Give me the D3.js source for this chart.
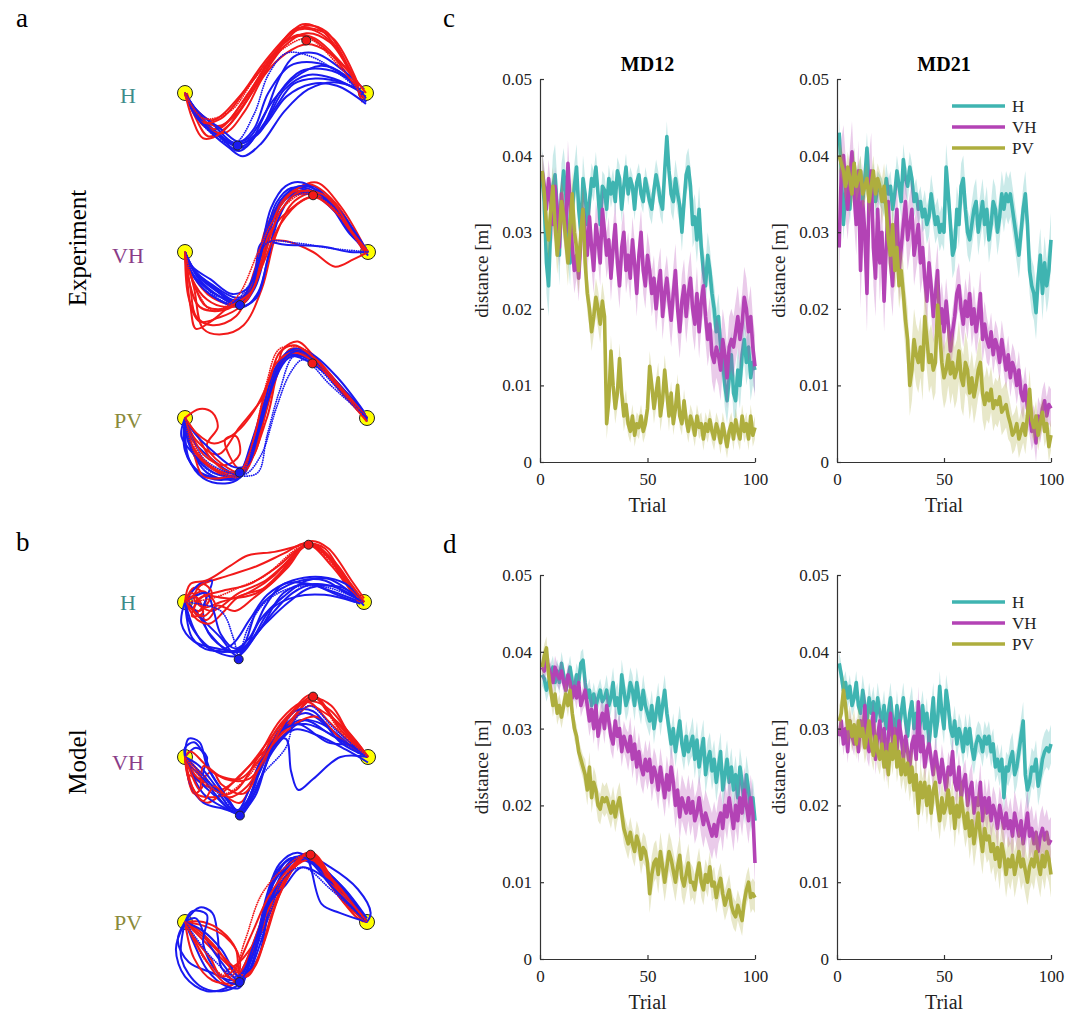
<!DOCTYPE html>
<html>
<head>
<meta charset="utf-8">
<script src="https://cdn.jsdelivr.net/npm/d3@7"></script>
<style>
  body { margin: 0; background: #fff; }
  svg { display: block; }
  text { font-family: "Liberation Serif", "Times New Roman", serif; }
</style>
</head>
<body>
<svg id="fig" width="1080" height="1012"></svg>
<script>
// ---------------- learning curves: mean distance to via points (mm) ----------------
const trials = d3.range(1, 101);
const xTicks = [0, 50, 100];
const yTicks = [0, 0.01, 0.02, 0.03, 0.04, 0.05];
const conditions = ["H", "VH", "PV"];

// experiment, MD12
const expMD12_H = [37,34,26,23,31,36,37.5,33,27,35, 38,35,29,26,33,36,38.5,33,30,37, 35,31,34,37,36,38.5,35,31,36,35.5,
  33,37,35,36.5,34,38,37,33,36,38.5, 35,37,36,33,36.5,37.5,35,34,37,35.5, 34,33,35.5,37.5,36,34,33,38,42.5,38,
  35,34,37,35,33.5,30,34,37.5,38.5,36, 31,32,29,33,28,25,23,27,25,22, 20,17,19,15,13,10,8,11,14,9, 8,12,10,14,16,13,15,11,13,12];
const expMD12_VH = [38,36,33,37,34,31,36,33,28,35, 32,30,39,34,28,25,27,24,29,33, 30,27,32,28,25,31,29,26,33,30,
  27,29,24,28,31,26,23,28,30,25, 27,24,29,26,22,27,30,25,23,27, 25,22,24,20,23,25,19,22,24,21,
  18.5,22,25,20,17,21,23,19,22,24, 20,18,22,17,21,23,19,16,18,14, 13,15,14,12,16,14,11,15,16,15, 17,19,16,18,21.5,20,17,19,15,12.5];
const expMD12_PV = [38,35,31,29,33,36,31,27,30,34, 32,29,26,31,35,30,28,25,30,33, 26,22,20,17,19,21.5,20,18,21,19,
  5,8,14.5,10,7,9,13.5,9,6,7.5, 5,4,6,3.5,5,4.5,6,4,5,7, 12.5,10,7,9,11,6,8,12,9,6,
  9,5,7,10,6,5,8,5.5,4,6, 5,3.5,6,4.5,5,3,5,4,5.5,4, 3,5,4,2.5,5,3.5,2,4,5,3, 5.5,4,3,6,4,5,3,6,3.5,4.5];

// experiment, MD21
const expMD21_H = [43,38,31,35,36,33,37,39,35,36, 38,34,37,41,36,35,37,34,36,35.5, 35,34,37,35,36,33,35,38,36,34,
  39.5,37,36,38.5,37,34,35,33,34,32, 33,31,32,35,33,31,32,30,31,30, 38.5,35,31,27,28,33,31,36,37,33,
  30,29,31,33,34,30,32,34,31,33, 29,31,34,33,30,32,35,33,35,34, 35,33,31,29,27,30,33,35,31,25, 23,22,19.5,24,27,22,26,23,25,29];
const expMD21_VH = [28,38,40,36,33,37,40.5,35,31,38, 25,34,30,22,35,38,28,24,33,26, 30,21,28,34,26,23,29,33,25,28,
  31,34,29,31,33,27,29,31,26,28, 24,21,26,23,19,22,25,18,20,17, 21,18,14.5,17,19,22,23,20,18,21,
  19,22,18,20,17,19,22,16,18,16, 15,17,14,16,15,13,16,14,12,14, 11,13,12,10,12,9,8,10,7,6, 4,5,2.5,6,5,7,8,6,7.5,7];
const expMD21_PV = [40,39,38,36,38.5,37,35,39,36,37, 38,35,36,37,34,36,38,35,37,36, 34,36,33,29,27,31,25,28,23,25,
  22,18.5,16,10,12,16,14,13,15,12, 19,16,13,14,12,13,20.5,17,13,11, 12,14,11.5,13,11,12,14.5,11,10,13,
  12,9,11,8.5,10,12,13,9,7.5,9, 8,9.5,7,8,7.5,8.5,6.5,7,7.5,6, 5,3.5,4,5,3,4,5,3.5,6,9.5, 5.5,4.5,6,3.5,5,6.5,4,5,2,3.5];

// model, MD12
const modMD12_H = [37,36.5,35,36,37,38,36,37.5,36,38.5, 37,35,36.5,38,36,35,37,36,38.5,38.9, 36,34,35,33,34.5,33,34,35,33.5,34,
  35,33,34,36,33,34,32,37,35,33, 34,36,35,33,36,34,32.5,35,33,32, 31,33,30,32,34,31,33,35,32,30,
  28,30,27,29,31,28,26.5,29,27,28, 29,26,28.5,25,27,28.7,24,26,27,24.5, 26,23,25,27,22,24,26,23,25,22, 24,21,25,23,20,24,22,19,21,18];
const modMD12_VH = [38,37.5,39,38,37,36,38,37,36.5,37.5, 36,35,37,36,34,35.5,34,36,33,34, 35,33,31,32.5,30,33,29,31,32,30,
  33,31,29,28,31,29,30,27,29,28, 27,29,26,28,25,27,25,24,26,24.5, 26,23,25,24,22,25,23,21,24,22,
  25,23,20,22,18.5,21,20,19,21,19, 20.5,18,19,21,19,17.5,19,18,17,16, 17.5,16,18,19,17,20,18.5,21,19,17, 20,18,21,19,22,20,18,21,19,12.5];
const modMD12_PV = [38,39.5,40.5,37,35,33,34.5,32,33,31.5, 33,34.5,33,35,32,30,29,27,26,25, 24,22,25,21,23,22,20,19.5,21,20.5,
  21,20,19,20.5,18.5,20,21,19,17,16, 15,16.5,15,14,16,15,13,14.5,14,12.5, 8.5,11,12.5,13,11,14,12,10,12,14,
  13,11.5,10,12,13.5,10.5,9.5,11,12.5,10, 10,9,11,12.5,10,9,11,10,12,9.5, 10,8,9.5,10.5,8.5,7,8,9,7,6, 5.5,7,6,5,7.5,9,10,8,8.5,8];

// model, MD21
const modMD21_H = [38.5,37,35,36,34,35.5,33,34,36,33, 32,35,33,31,34,32,33.5,31,34,32, 31,33,30,32,34,31,29,33,30,32,
  34,31,29,32,33.5,30,32,29,31,33, 30,32,28,31,34,29,31,35.5,32,30, 35,33,30,29,31,28,30,29,27,30,
  28,30,27.5,26,28,29,28.5,27,29,28, 29,27,28,25,26,24.5,26,21,25,24.5, 26,27,24,25,27,29,31,24,22,23, 25,24.5,26,22.5,24,26,27,27.5,27,28];
const modMD21_VH = [29,31,28,30,27,31,29,28,30,27, 31,29,33,28,27,30,32,26,29,31, 27,30,25,29,32,28,30,27,31,29,
  26,29,27,25,28,29,26,33.5,27,29, 25,27,28,26,24,27,25,23,26,24, 22,25,24,27,23,22,25,21,23,24,
  20,22,23,19,21,20,23,18,21,19, 21,18,20,19,17,20,18.5,17,19,17, 18,16,19,17.5,16,18,15,17,19,16, 17,15,16.5,14,16,17,15.5,16.5,15,15.5];
const modMD21_PV = [31,32,35,33,30,31,29,30.5,28,31, 29,30,27.5,29,31,28,26.5,29,27,26, 28,25,27,24,28,26,29,25,27,24,
  26,24,25.5,23,25,22,24,19,23,21, 23,20,22.5,19,22,23,20,18,21,19, 20,22,19,21,17,20,18.5,21,19,17,
  19,16,18,15,17,19,16,14,17,15.5, 16,14,15,13,14.5,12,15,13.5,11,13, 12,13.5,11,12.5,14,12,13,11.5,10,12, 13,12,14,12.5,11,13.5,12,14,13,11];

// half-width of the shaded spread, one value per block of ten trials (mm)
const expMD12_H_sd  = [4,3,2,1.8,1.5,2,2.5,3,3,3];
const expMD12_VH_sd = [2.5,3,3,3,3,3,3.5,3.5,4,4];
const expMD12_PV_sd = [2.5,3,2.5,2,1.5,2,1.5,1.5,1.5,1.5];
const expMD21_H_sd  = [2,2,2,2,2.5,3,3,3,3,3.5];
const expMD21_VH_sd = [4,5,4,4,3.5,3,3,2.5,2.5,2.5];
const expMD21_PV_sd = [2,2,3,4,4,4,3.5,3,2.5,2];
const modMD12_H_sd  = [1.5,1.5,1.5,2,2,2,2,2.5,2.5,2.5];
const modMD12_VH_sd = [1.5,1.5,2,2,2.5,2.5,3,3,3,3];
const modMD12_PV_sd = [1.5,1.5,2,2,2,2.5,2.5,2,2,2];
const modMD21_H_sd  = [1.5,2,2,2,2,2,2,2,2.5,2.5];
const modMD21_VH_sd = [1.5,2,2,2,2,2,2.5,2.5,3,3];
const modMD21_PV_sd = [2,2,2,2.5,2.5,2.5,3,3,3,3];

// ---------------- hand trajectories (start at [0,0], end at [1,0]) ----------------
const expH_red = [
  [[0,0],[0.06,-0.1],[0.15,-0.2],[0.28,-0.12],[0.42,0.08],[0.55,0.26],[0.67,0.33],[0.8,0.28],[0.92,0.1],[0.98,-0.02]],
  [[0,0],[0.05,-0.12],[0.13,-0.24],[0.24,-0.18],[0.4,0.05],[0.55,0.28],[0.66,0.37],[0.78,0.34],[0.9,0.15],[0.97,0]],
  [[0,-0.01],[0.08,-0.15],[0.18,-0.2],[0.32,-0.05],[0.45,0.15],[0.58,0.3],[0.68,0.31],[0.82,0.2],[0.95,0.02]],
  [[0,0],[0.07,-0.13],[0.2,-0.18],[0.35,0],[0.48,0.2],[0.6,0.34],[0.7,0.35],[0.84,0.25],[0.93,0.07],[0.99,-0.03]],
  [[0.01,0],[0.1,-0.18],[0.22,-0.22],[0.33,-0.1],[0.44,0.1],[0.56,0.22],[0.67,0.27],[0.8,0.22],[0.96,0.05]],
  [[0,0],[0.05,-0.08],[0.15,-0.15],[0.3,-0.02],[0.43,0.16],[0.57,0.32],[0.65,0.38],[0.75,0.35],[0.88,0.18],[0.98,-0.05]],
  [[0,0],[0.09,-0.16],[0.2,-0.14],[0.36,0.05],[0.5,0.23],[0.62,0.32],[0.72,0.3],[0.86,0.17],[1,0]],
  [[0,0],[0.04,-0.14],[0.1,-0.25],[0.2,-0.22],[0.34,-0.04],[0.47,0.18],[0.6,0.35],[0.68,0.36],[0.82,0.3],[0.96,0.04]]
];
const expH_redDot = [
  [[0,0],[0.1,-0.14],[0.25,-0.1],[0.4,0.1],[0.55,0.25],[0.68,0.3],[0.85,0.15],[0.97,0]]
];
const expH_blue = [
  [[0,0],[0.06,-0.1],[0.18,-0.22],[0.3,-0.3],[0.42,-0.2],[0.52,0],[0.64,0.12],[0.78,0.13],[0.9,0.08],[1,-0.03]],
  [[0,0],[0.08,-0.12],[0.2,-0.25],[0.3,-0.32],[0.45,-0.15],[0.55,0.02],[0.68,0.1],[0.82,0.08],[0.98,0]],
  [[0,0],[0.1,-0.15],[0.25,-0.27],[0.35,-0.25],[0.48,-0.05],[0.6,0.08],[0.75,0.15],[0.88,0.1],[1,-0.05]],
  [[0,0],[0.05,-0.08],[0.16,-0.18],[0.28,-0.28],[0.4,-0.23],[0.5,-0.08],[0.6,0.05],[0.72,0.08],[0.86,0.06],[0.99,0]],
  [[0,0],[0.08,-0.14],[0.22,-0.26],[0.33,-0.3],[0.44,-0.12],[0.52,0.08],[0.6,0.2],[0.72,0.22],[0.88,0.12],[0.99,0.02]],
  [[0,0],[0.1,-0.17],[0.24,-0.3],[0.32,-0.35],[0.42,-0.28],[0.55,-0.1],[0.68,0.02],[0.82,0.06],[0.97,0.02]],
  [[0,0],[0.07,-0.1],[0.2,-0.2],[0.3,-0.27],[0.38,-0.2],[0.46,0],[0.58,0.15],[0.7,0.17],[0.85,0.12],[0.98,-0.01]],
  [[0,0],[0.06,-0.13],[0.19,-0.24],[0.31,-0.28],[0.44,-0.18],[0.56,-0.02],[0.7,0.05],[0.84,0.04],[1,-0.06]]
];
const expH_blueDot = [
  [[0,0],[0.12,-0.2],[0.27,-0.28],[0.38,-0.12],[0.46,0.1],[0.56,0.22],[0.7,0.2],[0.86,0.1],[1,-0.02]]
];

const expVH_red = [
  [[0,0],[0.02,-0.15],[0.08,-0.3],[0.2,-0.32],[0.32,-0.25],[0.4,-0.05],[0.48,0.2],[0.58,0.32],[0.7,0.33],[0.85,0.2],[0.99,0]],
  [[0,0],[0.03,-0.2],[0.06,-0.35],[0.15,-0.4],[0.28,-0.35],[0.38,-0.1],[0.45,0.15],[0.55,0.3],[0.68,0.37],[0.82,0.27],[0.97,0.02]],
  [[0,0],[0.05,-0.2],[0.1,-0.42],[0.2,-0.45],[0.32,-0.4],[0.42,-0.2],[0.5,0.1],[0.6,0.28],[0.72,0.32],[0.88,0.15],[1,0]],
  [[0,0],[0.04,-0.12],[0.15,-0.25],[0.28,-0.28],[0.38,-0.15],[0.45,0.05],[0.55,0.06],[0.7,0],[0.82,-0.08],[0.92,-0.04],[1,0]],
  [[0,0],[0.05,-0.18],[0.12,-0.3],[0.25,-0.3],[0.35,-0.2],[0.43,0.05],[0.52,0.25],[0.62,0.35],[0.72,0.38],[0.85,0.25],[0.98,0.03]],
  [[0,0],[0.02,-0.25],[0.08,-0.38],[0.18,-0.36],[0.3,-0.3],[0.4,-0.12],[0.46,0.1],[0.56,0.22],[0.7,0.3],[0.86,0.18],[0.99,-0.01]],
  [[0,0],[0.04,-0.15],[0.12,-0.26],[0.22,-0.3],[0.33,-0.27],[0.42,-0.08],[0.52,0.15],[0.64,0.28],[0.76,0.3],[0.9,0.12],[1,0]],
  [[0,0],[0.03,-0.3],[0.06,-0.42],[0.14,-0.38],[0.24,-0.3],[0.36,-0.22],[0.44,0],[0.52,0.22],[0.63,0.33],[0.78,0.3],[0.92,0.1],[1,0]]
];
const expVH_redDot = [
  [[0,0],[0.06,-0.2],[0.15,-0.32],[0.28,-0.25],[0.4,0],[0.5,0.2],[0.65,0.32],[0.8,0.25],[0.97,0.01]]
];
const expVH_blue = [
  [[0,0],[0.05,-0.1],[0.15,-0.18],[0.28,-0.25],[0.35,-0.22],[0.42,-0.05],[0.48,0.2],[0.56,0.32],[0.66,0.35],[0.8,0.25],[0.92,0.08],[1,0]],
  [[0,0],[0.06,-0.12],[0.18,-0.22],[0.3,-0.29],[0.38,-0.2],[0.44,0],[0.5,0.22],[0.6,0.34],[0.7,0.36],[0.85,0.2],[0.98,0]],
  [[0,0],[0.04,-0.08],[0.14,-0.15],[0.26,-0.23],[0.36,-0.18],[0.43,0.05],[0.5,0.27],[0.58,0.35],[0.68,0.33],[0.82,0.22],[0.95,0.05],[1,-0.02]],
  [[0,0],[0.07,-0.14],[0.2,-0.25],[0.32,-0.3],[0.4,-0.22],[0.46,0],[0.52,0.25],[0.6,0.32],[0.75,0.3],[0.9,0.1],[0.99,0.02]],
  [[0,0],[0.05,-0.1],[0.16,-0.2],[0.3,-0.28],[0.38,-0.12],[0.42,0.05],[0.55,0.04],[0.75,0.03],[0.9,0],[1,0]],
  [[0,0],[0.06,-0.11],[0.17,-0.2],[0.29,-0.27],[0.37,-0.15],[0.45,0.1],[0.52,0.28],[0.62,0.36],[0.72,0.34],[0.85,0.22],[0.97,0.04]],
  [[0,0],[0.05,-0.14],[0.18,-0.26],[0.3,-0.3],[0.39,-0.25],[0.45,-0.05],[0.51,0.18],[0.58,0.3],[0.66,0.32],[0.78,0.28],[0.92,0.12],[1,0]],
  [[0,0],[0.03,-0.1],[0.12,-0.2],[0.24,-0.26],[0.34,-0.24],[0.41,-0.02],[0.47,0.24],[0.55,0.36],[0.64,0.38],[0.8,0.26],[0.95,0.06]]
];
const expVH_blueDot = [
  [[0,0],[0.1,-0.18],[0.25,-0.28],[0.35,-0.18],[0.45,0.05],[0.6,0.05],[0.8,0.02],[1,0]]
];

const expPV_red = [
  [[0,0],[0.04,-0.15],[0.12,-0.25],[0.22,-0.3],[0.32,-0.3],[0.4,-0.1],[0.47,0.15],[0.55,0.33],[0.63,0.38],[0.72,0.3],[0.86,0.16],[1,0]],
  [[0,0],[0.08,0.05],[0.15,0.03],[0.18,-0.05],[0.12,-0.15],[0.2,-0.25],[0.32,-0.3],[0.42,-0.05],[0.5,0.22],[0.58,0.38],[0.68,0.35],[0.85,0.17],[0.99,0]],
  [[0,0],[0.06,-0.12],[0.18,-0.2],[0.3,-0.05],[0.42,0.1],[0.5,0.25],[0.54,0.38],[0.62,0.42],[0.7,0.35],[0.85,0.18],[1,0]],
  [[0,0],[0.1,-0.2],[0.22,-0.26],[0.3,-0.2],[0.28,-0.1],[0.22,-0.12],[0.3,-0.28],[0.38,-0.2],[0.46,0.1],[0.55,0.34],[0.66,0.36],[0.82,0.2],[0.98,0.01]],
  [[0,0],[0.05,-0.18],[0.15,-0.28],[0.27,-0.33],[0.35,-0.25],[0.42,0],[0.5,0.28],[0.58,0.36],[0.7,0.32],[0.88,0.12],[1,-0.02]],
  [[0,0],[0.07,-0.1],[0.14,-0.22],[0.25,-0.3],[0.33,-0.28],[0.45,0],[0.53,0.3],[0.62,0.37],[0.75,0.28],[0.9,0.1],[1,0]],
  [[0,0],[0.05,-0.2],[0.1,-0.32],[0.2,-0.33],[0.3,-0.3],[0.36,-0.18],[0.43,0.1],[0.5,0.3],[0.6,0.36],[0.72,0.3],[0.86,0.14],[0.99,0]],
  [[0,0],[0.06,-0.08],[0.16,-0.14],[0.28,-0.08],[0.38,0.04],[0.46,0.2],[0.52,0.36],[0.6,0.4],[0.72,0.32],[0.88,0.14],[1,0]]
];
const expPV_redDot = [
  [[0,0],[0.08,-0.2],[0.2,-0.3],[0.3,-0.32],[0.38,-0.1],[0.45,0.2],[0.52,0.38],[0.65,0.38],[0.8,0.22],[0.97,0.02]]
];
const expPV_blue = [
  [[0,0],[-0.02,-0.1],[0.05,-0.2],[0.15,-0.28],[0.28,-0.32],[0.33,-0.3],[0.4,-0.05],[0.5,0.25],[0.58,0.36],[0.68,0.34],[0.82,0.2],[0.97,0.05],[1,-0.02]],
  [[0,0],[0.02,-0.14],[0.1,-0.26],[0.22,-0.32],[0.3,-0.3],[0.36,-0.15],[0.44,0.1],[0.52,0.3],[0.6,0.35],[0.72,0.3],[0.86,0.16],[1,0]],
  [[0,0],[0,-0.18],[0.08,-0.3],[0.2,-0.34],[0.3,-0.3],[0.38,-0.1],[0.46,0.15],[0.55,0.33],[0.65,0.36],[0.78,0.24],[0.93,0.08],[1,-0.01]],
  [[0,0],[0.04,-0.12],[0.14,-0.22],[0.26,-0.3],[0.32,-0.28],[0.4,-0.08],[0.48,0.2],[0.56,0.34],[0.66,0.32],[0.8,0.22],[0.95,0.04]],
  [[0,0],[0.03,-0.16],[0.12,-0.3],[0.25,-0.34],[0.31,-0.32],[0.37,-0.18],[0.45,0.1],[0.52,0.3],[0.6,0.38],[0.7,0.35],[0.84,0.22],[0.98,0.04]],
  [[0,0],[0.01,-0.2],[0.07,-0.29],[0.18,-0.33],[0.29,-0.32],[0.35,-0.22],[0.42,0.02],[0.5,0.28],[0.58,0.37],[0.7,0.32],[0.85,0.18],[1,0]],
  [[0,0],[0.05,-0.08],[0.15,-0.18],[0.27,-0.27],[0.34,-0.26],[0.41,-0.06],[0.49,0.2],[0.57,0.33],[0.68,0.33],[0.83,0.2],[0.99,0.02]],
  [[0,0],[0.02,-0.22],[0.1,-0.33],[0.22,-0.36],[0.3,-0.33],[0.38,-0.14],[0.46,0.12],[0.54,0.32],[0.63,0.37],[0.76,0.27],[0.92,0.1],[1,0]]
];
const expPV_blueDot = [
  [[0,0],[0.05,-0.2],[0.15,-0.3],[0.3,-0.32],[0.4,-0.3],[0.45,-0.1],[0.52,0.15],[0.6,0.34],[0.7,0.3],[0.85,0.15],[1,0]],
  [[0,0],[0.1,-0.22],[0.24,-0.3],[0.33,-0.31],[0.42,-0.2],[0.5,0.05],[0.58,0.25],[0.65,0.32],[0.8,0.18],[1,0]]
];

const modH_red = [
  [[0,0],[0.05,0.08],[0.12,0.02],[0.06,-0.06],[0.02,0.04],[0.1,0.1],[0.25,0.15],[0.4,0.2],[0.55,0.27],[0.68,0.33],[0.8,0.25],[0.9,0.1],[1,0]],
  [[0,0],[0.08,-0.05],[0.15,0.05],[0.1,0.1],[0.05,0.02],[0.15,-0.05],[0.3,0.05],[0.45,0.12],[0.6,0.25],[0.69,0.32],[0.82,0.2],[0.97,0]],
  [[0,0],[0.03,0.1],[0.12,0.12],[0.25,0.2],[0.35,0.26],[0.5,0.28],[0.62,0.31],[0.7,0.33],[0.85,0.2],[0.95,0.05],[1,0]],
  [[0,0],[0.1,0.06],[0.17,-0.02],[0.12,-0.1],[0.05,-0.05],[0.1,0.03],[0.25,0.02],[0.4,0.05],[0.55,0.18],[0.68,0.32],[0.78,0.3],[0.92,0.08],[1,0]],
  [[0,0],[0.07,-0.1],[0.14,-0.12],[0.22,-0.05],[0.3,0.03],[0.45,0.08],[0.58,0.2],[0.69,0.33],[0.84,0.22],[0.98,0]],
  [[0,0],[0.04,0.05],[0.1,-0.03],[0.2,0],[0.35,0.05],[0.5,0.15],[0.62,0.28],[0.7,0.34],[0.8,0.3],[0.93,0.12],[1,0.02]],
  [[0,0],[0.1,-0.08],[0.18,-0.02],[0.28,-0.05],[0.38,0.02],[0.5,0.12],[0.6,0.25],[0.7,0.32],[0.86,0.18],[0.99,0]],
  [[0,0],[0.06,0.03],[0.1,-0.06],[0.04,-0.08],[0.08,0.02],[0.2,0.06],[0.36,0.1],[0.52,0.2],[0.64,0.3],[0.72,0.32],[0.88,0.16],[1,0]]
];
const modH_redDot = [
  [[0,0],[0.15,0.02],[0.3,0.08],[0.45,0.15],[0.6,0.28],[0.68,0.33],[0.85,0.18],[1,0]]
];
const modH_blue = [
  [[0,0],[0.02,-0.1],[0.08,-0.2],[0.18,-0.28],[0.3,-0.3],[0.4,-0.18],[0.5,-0.05],[0.6,0.05],[0.72,0.1],[0.85,0.08],[1,0]],
  [[0,0],[0.08,0.1],[0.15,0.12],[0.1,-0.05],[0.15,-0.2],[0.3,-0.28],[0.42,-0.15],[0.55,0.05],[0.68,0.1],[0.82,0.06],[0.98,0]],
  [[0,0],[-0.02,-0.12],[0.05,-0.22],[0.18,-0.26],[0.3,-0.27],[0.45,-0.12],[0.58,0],[0.7,0.08],[0.88,0.08],[1,-0.02]],
  [[0,0],[0.06,-0.05],[0.14,-0.18],[0.25,-0.28],[0.33,-0.26],[0.42,-0.1],[0.55,0.03],[0.68,0.12],[0.8,0.13],[0.92,0.06],[1,0]],
  [[0,0],[0.1,-0.1],[0.2,-0.2],[0.29,-0.3],[0.38,-0.2],[0.48,-0.04],[0.62,0.03],[0.78,0.04],[0.95,0]],
  [[0,0],[0.05,-0.15],[0.12,-0.25],[0.22,-0.28],[0.32,-0.25],[0.4,-0.05],[0.5,0.05],[0.65,0.12],[0.78,0.12],[0.9,0.05],[1,0]],
  [[0,0],[0.12,0.05],[0.16,-0.05],[0.2,-0.18],[0.28,-0.26],[0.36,-0.2],[0.45,-0.02],[0.55,0.1],[0.7,0.1],[0.85,0.04],[0.98,-0.01]],
  [[0,0],[0.04,-0.2],[0.14,-0.27],[0.26,-0.24],[0.36,-0.1],[0.46,0.04],[0.6,0.12],[0.76,0.14],[0.9,0.1],[1,0]]
];
const modH_blueDot = [
  [[0,0],[0.2,-0.05],[0.27,-0.2],[0.3,-0.3],[0.35,-0.15],[0.45,0],[0.6,0.08],[0.8,0.08],[1,0]]
];

const modVH_red = [
  [[0,0],[0.05,-0.05],[0.1,-0.15],[0.05,-0.2],[0.02,-0.1],[0.1,-0.15],[0.2,-0.2],[0.3,-0.25],[0.4,-0.05],[0.5,0.15],[0.62,0.28],[0.7,0.33],[0.82,0.2],[0.95,0.05],[1,0]],
  [[0,0],[0.1,-0.1],[0.18,-0.18],[0.25,-0.15],[0.35,-0.05],[0.45,0.08],[0.55,0.2],[0.67,0.3],[0.78,0.2],[0.9,0.08],[1,0]],
  [[0,0],[0.04,-0.18],[0.12,-0.25],[0.2,-0.2],[0.3,-0.1],[0.45,0.05],[0.58,0.2],[0.7,0.32],[0.8,0.28],[0.9,0.12],[1,0]],
  [[0,0],[0.08,-0.12],[0.15,-0.08],[0.2,-0.15],[0.32,-0.2],[0.42,-0.05],[0.52,0.12],[0.62,0.25],[0.71,0.33],[0.85,0.15],[0.98,0.02]],
  [[0,0],[0.03,0.03],[0.12,-0.05],[0.22,-0.12],[0.35,-0.12],[0.48,0.05],[0.6,0.18],[0.72,0.22],[0.85,0.1],[1,0]],
  [[0,0],[0.06,-0.2],[0.15,-0.22],[0.28,-0.18],[0.4,0],[0.52,0.2],[0.64,0.3],[0.72,0.3],[0.8,0.25],[0.92,0.1],[1,0]],
  [[0,0],[0.08,-0.18],[0.1,-0.05],[0.18,-0.1],[0.3,-0.12],[0.42,0],[0.55,0.15],[0.68,0.28],[0.75,0.25],[0.88,0.15],[1,0]],
  [[0,0],[0.02,-0.12],[0.1,-0.24],[0.16,-0.16],[0.24,-0.22],[0.34,-0.16],[0.46,0.04],[0.58,0.24],[0.69,0.34],[0.8,0.22],[0.94,0.08],[1,0]]
];
const modVH_redDot = [
  [[0,0],[0.12,-0.15],[0.22,-0.2],[0.35,-0.1],[0.48,0.1],[0.6,0.25],[0.7,0.33],[0.85,0.14],[1,0]]
];
const modVH_blue = [
  [[0,0],[0,0.05],[0.05,0.08],[0.1,0.02],[0.15,-0.1],[0.25,-0.25],[0.3,-0.32],[0.38,-0.2],[0.46,0],[0.55,0.12],[0.65,0.2],[0.8,0.12],[1,0]],
  [[0,0],[0.05,-0.1],[0.15,-0.2],[0.28,-0.3],[0.35,-0.18],[0.45,0.05],[0.55,0.1],[0.58,-0.08],[0.62,-0.18],[0.7,-0.12],[0.85,0],[1,0]],
  [[0,0],[0.06,0.05],[0.12,0],[0.1,-0.1],[0.2,-0.2],[0.3,-0.3],[0.4,-0.1],[0.5,0.1],[0.62,0.2],[0.75,0.18],[0.9,0.06],[1,0]],
  [[0,0],[0.03,-0.15],[0.1,-0.25],[0.2,-0.28],[0.3,-0.3],[0.36,-0.2],[0.44,0.02],[0.55,0.18],[0.66,0.24],[0.8,0.15],[0.95,0.02]],
  [[0,0],[0.08,-0.05],[0.16,-0.15],[0.25,-0.28],[0.32,-0.28],[0.42,-0.05],[0.52,0.15],[0.62,0.18],[0.78,0.08],[0.92,0.06],[1,0]],
  [[0,0],[0.02,0.1],[0.08,0.08],[0.12,-0.05],[0.2,-0.18],[0.3,-0.3],[0.38,-0.22],[0.48,0.05],[0.6,0.15],[0.72,0.12],[0.88,0.04],[1,-0.03]],
  [[0,0],[0.1,-0.2],[0.22,-0.28],[0.3,-0.31],[0.4,-0.15],[0.5,0.1],[0.6,0.25],[0.7,0.25],[0.85,0.08],[1,0]],
  [[0,0],[0.04,-0.06],[0.1,-0.12],[0.18,-0.22],[0.27,-0.3],[0.34,-0.24],[0.42,-0.04],[0.52,0.14],[0.66,0.18],[0.84,0.1],[1,0]]
];
const modVH_blueDot = [
  [[0,0],[0.1,-0.1],[0.2,-0.22],[0.3,-0.3],[0.42,-0.1],[0.55,0.05],[0.6,0.2],[0.68,0.28],[0.82,0.15],[1,0]]
];

const modPV_red = [
  [[0,0],[0.1,-0.1],[0.2,-0.2],[0.3,-0.28],[0.4,-0.1],[0.5,0.15],[0.6,0.3],[0.68,0.36],[0.8,0.2],[0.95,0.02],[1,0]],
  [[0,0],[0.1,0],[0.2,-0.05],[0.28,-0.15],[0.3,-0.28],[0.38,-0.15],[0.45,0.1],[0.55,0.25],[0.68,0.38],[0.85,0.15],[1,0]],
  [[0,0],[0.08,-0.15],[0.18,-0.3],[0.25,-0.35],[0.32,-0.25],[0.42,0],[0.52,0.2],[0.62,0.32],[0.7,0.35],[0.82,0.2],[0.98,0]],
  [[0,0],[0.1,-0.02],[0.22,-0.08],[0.3,-0.2],[0.28,-0.32],[0.22,-0.28],[0.3,-0.22],[0.42,-0.05],[0.55,0.22],[0.68,0.38],[0.8,0.25],[1,0]],
  [[0,0],[0.05,-0.2],[0.15,-0.32],[0.27,-0.33],[0.35,-0.2],[0.45,0.05],[0.58,0.28],[0.69,0.36],[0.84,0.15],[1,0]],
  [[0,0],[0.08,-0.05],[0.18,-0.15],[0.3,-0.3],[0.38,-0.25],[0.48,0.05],[0.6,0.3],[0.7,0.34],[0.88,0.1],[1,0]],
  [[0,0],[0.12,-0.1],[0.26,-0.24],[0.34,-0.3],[0.42,-0.15],[0.52,0.15],[0.62,0.33],[0.7,0.38],[0.86,0.15],[1,0]],
  [[0,0],[0.06,-0.1],[0.14,-0.2],[0.2,-0.3],[0.27,-0.26],[0.36,-0.08],[0.46,0.14],[0.58,0.3],[0.68,0.37],[0.82,0.22],[1,0]]
];
const modPV_redDot = [
  [[0,0],[0.12,-0.22],[0.25,-0.3],[0.33,-0.1],[0.42,0.15],[0.55,0.3],[0.68,0.37],[0.85,0.18],[1,0]]
];
const modPV_blue = [
  [[0,0],[-0.05,-0.15],[0,-0.3],[0.12,-0.38],[0.25,-0.35],[0.32,-0.25],[0.4,-0.05],[0.48,0.2],[0.55,0.3],[0.65,0.35],[0.75,0.3],[0.9,0.15],[1,0]],
  [[0,0],[0.08,0.08],[0.15,0.05],[0.18,-0.08],[0.2,-0.25],[0.3,-0.33],[0.38,-0.15],[0.45,0.15],[0.52,0.32],[0.62,0.38],[0.78,0.25],[1,0]],
  [[0,0],[-0.04,-0.1],[0.02,-0.22],[0.15,-0.28],[0.25,-0.32],[0.33,-0.3],[0.42,-0.1],[0.5,0.2],[0.6,0.35],[0.72,0.33],[0.85,0.2],[1,0]],
  [[0,0],[0.05,-0.12],[0.12,-0.26],[0.22,-0.35],[0.3,-0.36],[0.36,-0.2],[0.44,0.05],[0.55,0.28],[0.65,0.37],[0.8,0.3],[0.95,0.18],[1.02,0.05],[1,0]],
  [[0,0],[0.06,0.02],[0.12,-0.1],[0.2,-0.22],[0.3,-0.32],[0.4,-0.2],[0.47,0.1],[0.56,0.3],[0.66,0.36],[0.75,0.1],[0.85,0.05],[1,0]],
  [[0,0],[-0.02,-0.2],[0.08,-0.35],[0.2,-0.38],[0.3,-0.34],[0.36,-0.25],[0.43,0],[0.5,0.25],[0.58,0.35],[0.7,0.32],[0.86,0.2],[1,0.02]],
  [[0,0],[0.1,-0.05],[0.2,-0.15],[0.3,-0.3],[0.38,-0.12],[0.46,0.1],[0.55,0.2],[0.64,0.3],[0.8,0.22],[0.96,0.06]],
  [[0,0],[0.04,0.06],[0.12,0.04],[0.1,-0.12],[0.18,-0.28],[0.28,-0.34],[0.36,-0.22],[0.44,0.08],[0.52,0.3],[0.64,0.36],[0.82,0.18],[1,0]]
];
const modPV_blueDot = [
  [[0,0],[0.15,-0.2],[0.28,-0.3],[0.35,-0.22],[0.45,0],[0.55,0.25],[0.65,0.3],[0.8,0.18],[1,0]]
];

// ---------------- figure ----------------
const svg = d3.select("#fig");
const serif = "'Liberation Serif','Times New Roman',serif";
const lineColor = { H: "#3fb4b1", VH: "#b343b5", PV: "#aeae3e" };
const labelColor = { H: "#3d8c8a", VH: "#8a3c88", PV: "#8a8a3a" };

// panel letters
[["a", 16, 27], ["b", 16, 551], ["c", 443, 27], ["d", 443, 553]].forEach(([t, x, y]) => {
  svg.append("text").attr("x", x).attr("y", y).attr("font-size", 27).attr("fill", "#000").text(t);
});

// row titles for the trajectory columns
[["Experiment", 248], ["Model", 762]].forEach(([t, cy]) => {
  svg.append("text").attr("transform", `translate(86,${cy}) rotate(-90)`)
    .attr("text-anchor", "middle").attr("font-size", 25).attr("fill", "#000").text(t);
});

const trajPanels = [
  { cond: "H",  x0: 185, y0: 93,  w: 181, red: expH_red,  redDot: expH_redDot,  blue: expH_blue,  blueDot: expH_blueDot,  via: { r: [0.67, 0.29], b: [0.29, -0.29] }, lab: 103 },
  { cond: "VH", x0: 185, y0: 252, w: 183, red: expVH_red, redDot: expVH_redDot, blue: expVH_blue, blueDot: expVH_blueDot, via: { r: [0.70, 0.31], b: [0.30, -0.29] }, lab: 263 },
  { cond: "PV", x0: 185, y0: 418, w: 182, red: expPV_red, redDot: expPV_redDot, blue: expPV_blue, blueDot: expPV_blueDot, via: { r: [0.70, 0.30], b: [0.30, -0.30] }, lab: 428 },
  { cond: "H",  x0: 185, y0: 602, w: 179, red: modH_red,  redDot: modH_redDot,  blue: modH_blue,  blueDot: modH_blueDot,  via: { r: [0.69, 0.32], b: [0.30, -0.32] }, lab: 610 },
  { cond: "VH", x0: 185, y0: 757, w: 183, red: modVH_red, redDot: modVH_redDot, blue: modVH_blue, blueDot: modVH_blueDot, via: { r: [0.70, 0.33], b: [0.30, -0.32] }, lab: 770 },
  { cond: "PV", x0: 185, y0: 922, w: 182, red: modPV_red, redDot: modPV_redDot, blue: modPV_blue, blueDot: modPV_blueDot, via: { r: [0.69, 0.37], b: [0.30, -0.33] }, lab: 930 }
];

const RED = "#f21a1a", BLUE = "#1a1af0";

trajPanels.forEach(p => {
  const g = svg.append("g");
  const sx = d3.scaleLinear([0, 1], [p.x0, p.x0 + p.w]);
  const sy = d3.scaleLinear([0, 1], [p.y0, p.y0 - p.w]);
  const path = d3.line().x(d => sx(d[0])).y(d => sy(d[1])).curve(d3.curveCatmullRom.alpha(0.5));

  g.append("text").attr("x", 128).attr("y", p.lab).attr("text-anchor", "middle")
    .attr("font-size", 22).attr("fill", labelColor[p.cond]).text(p.cond);

  // start / end targets
  [[0, 0], [1, 0]].forEach(c => {
    g.append("circle").attr("cx", sx(c[0])).attr("cy", sy(c[1])).attr("r", 7.5)
      .attr("fill", "#ffff00").attr("stroke", "#222").attr("stroke-width", 1);
  });

  const n = Math.max(p.red.length, p.blue.length);
  for (let i = 0; i < n; i++) {
    if (p.blue[i]) g.append("path").attr("d", path(p.blue[i])).attr("fill", "none")
      .attr("stroke", BLUE).attr("stroke-width", 2).attr("stroke-linejoin", "round");
    if (p.red[i]) g.append("path").attr("d", path(p.red[i])).attr("fill", "none")
      .attr("stroke", RED).attr("stroke-width", 2).attr("stroke-linejoin", "round");
  }
  p.blueDot.forEach(d => g.append("path").attr("d", path(d)).attr("fill", "none")
    .attr("stroke", BLUE).attr("stroke-width", 1.8).attr("stroke-dasharray", "0.1 2.2").attr("stroke-linecap", "round"));
  p.redDot.forEach(d => g.append("path").attr("d", path(d)).attr("fill", "none")
    .attr("stroke", RED).attr("stroke-width", 1.8).attr("stroke-dasharray", "0.1 2.2").attr("stroke-linecap", "round"));

  // via points
  g.append("circle").attr("cx", sx(p.via.r[0])).attr("cy", sy(p.via.r[1])).attr("r", 4.5)
    .attr("fill", RED).attr("stroke", "#222").attr("stroke-width", 1);
  g.append("circle").attr("cx", sx(p.via.b[0])).attr("cy", sy(p.via.b[1])).attr("r", 4.5)
    .attr("fill", BLUE).attr("stroke", "#222").attr("stroke-width", 1);
});

// ---------------- learning-curve axes ----------------
const curvePanels = [
  { x0: 540, x1: 755,  yTop: 79,  yBot: 462, title: "MD12", legend: false,
    series: { H: [expMD12_H, expMD12_H_sd], VH: [expMD12_VH, expMD12_VH_sd], PV: [expMD12_PV, expMD12_PV_sd] } },
  { x0: 837, x1: 1051, yTop: 79,  yBot: 462, title: "MD21", legend: true,
    series: { H: [expMD21_H, expMD21_H_sd], VH: [expMD21_VH, expMD21_VH_sd], PV: [expMD21_PV, expMD21_PV_sd] } },
  { x0: 540, x1: 755,  yTop: 575, yBot: 959, title: null, legend: false,
    series: { H: [modMD12_H, modMD12_H_sd], VH: [modMD12_VH, modMD12_VH_sd], PV: [modMD12_PV, modMD12_PV_sd] } },
  { x0: 837, x1: 1051, yTop: 575, yBot: 959, title: null, legend: true,
    series: { H: [modMD21_H, modMD21_H_sd], VH: [modMD21_VH, modMD21_VH_sd], PV: [modMD21_PV, modMD21_PV_sd] } }
];

const axisColor = "#333";
curvePanels.forEach(cp => {
  const g = svg.append("g");
  const x = d3.scaleLinear([0, 100], [cp.x0, cp.x1]);
  const y = d3.scaleLinear([0, 0.05], [cp.yBot, cp.yTop]);

  conditions.forEach(c => {
    const [vals, sd] = cp.series[c];
    const rows = trials.map((t, i) => ({ t, m: vals[i] / 1000, s: sd[Math.floor(i / 10)] / 1000 }));
    g.append("path").datum(rows)
      .attr("d", d3.area().x(d => x(d.t)).y0(d => y(Math.max(0, d.m - d.s))).y1(d => y(d.m + d.s)))
      .attr("fill", lineColor[c]).attr("fill-opacity", 0.28).attr("stroke", "none");
    g.append("path").datum(rows)
      .attr("d", d3.line().x(d => x(d.t)).y(d => y(d.m)))
      .attr("fill", "none").attr("stroke", lineColor[c]).attr("stroke-width", 3.6)
      .attr("stroke-linejoin", "round");
  });

  const ya = g.append("g").attr("transform", `translate(${cp.x0},0)`)
    .call(d3.axisLeft(y).tickValues(yTicks).tickSizeInner(-4).tickSizeOuter(0).tickPadding(8)
      .tickFormat(d => d === 0 ? "0" : d.toFixed(2)));
  const xa = g.append("g").attr("transform", `translate(0,${cp.yBot})`)
    .call(d3.axisBottom(x).tickValues(xTicks).tickSizeInner(-4).tickSizeOuter(0).tickPadding(11)
      .tickFormat(d3.format("d")));
  [ya, xa].forEach(a => {
    a.select(".domain").attr("stroke", axisColor).attr("stroke-width", 1.2);
    a.selectAll(".tick line").attr("stroke", axisColor).attr("stroke-width", 1.2);
    a.selectAll("text").attr("font-family", serif).attr("font-size", 17).attr("fill", "#222");
  });

  g.append("text").attr("x", (cp.x0 + cp.x1) / 2).attr("y", cp.yBot + 50).attr("text-anchor", "middle")
    .attr("font-size", 20).attr("fill", "#222").text("Trial");
  g.append("text").attr("transform", `translate(${cp.x0 - 52},${(cp.yTop + cp.yBot) / 2}) rotate(-90)`)
    .attr("text-anchor", "middle").attr("font-size", 19).attr("fill", "#222").text("distance [m]");
  if (cp.title) {
    g.append("text").attr("x", (cp.x0 + cp.x1) / 2).attr("y", 71).attr("text-anchor", "middle")
      .attr("font-size", 20).attr("font-weight", "bold").attr("fill", "#000").text(cp.title);
  }
  if (cp.legend) {
    conditions.forEach((c, i) => {
      const ly = cp.yTop + 27 + i * 21;
      g.append("line").attr("x1", cp.x0 + 115).attr("x2", cp.x0 + 168).attr("y1", ly).attr("y2", ly)
        .attr("stroke", lineColor[c]).attr("stroke-width", 3.6);
      g.append("text").attr("x", cp.x0 + 175).attr("y", ly + 6).attr("font-size", 17)
        .attr("fill", "#222").text(c);
    });
  }
});
</script>
</body>
</html>
